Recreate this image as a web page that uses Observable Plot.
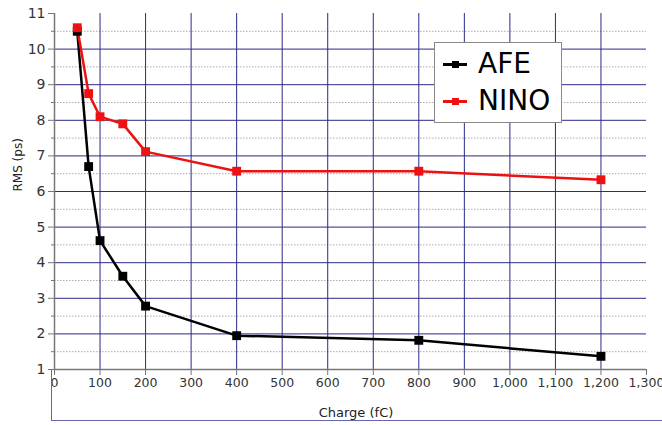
<!DOCTYPE html>
<html>
<head>
<meta charset="utf-8">
<script src="https://cdn.jsdelivr.net/npm/d3@7"></script>
<script src="https://cdn.jsdelivr.net/npm/@observablehq/plot@0.6"></script>
<style>
  body { margin: 0; background: #fff; font-family: "DejaVu Sans", sans-serif; }
  #wrap { position: relative; width: 662px; height: 425px; overflow: hidden; }
  #box { position: absolute; left: 51px; top: 369px; width: 640px; height: 51px;
         border-left: 1.5px solid #6666aa; border-bottom: 1.5px solid #6666aa; }
  #xlabel { position: absolute; left: 6px; width: 700px; text-align: center; top: 405px;
            font-size: 13px; color: #222; }
  #legend { position: absolute; left: 434px; top: 42px; width: 126px; height: 79px;
            border: 1.5px solid #888; background: #fff; }
  .entry { position: absolute; left: 0; height: 30px; }
  .entry .ln { position: absolute; left: 8px; width: 24px; height: 2.5px; }
  .entry .mk { position: absolute; left: 17px; width: 7px; height: 7px; }
  .entry .tx { position: absolute; left: 43px; font-size: 28px; line-height: 30px; color: #000; }
</style>
</head>
<body>
<div id="wrap">
  <div id="chart"></div>
  <div id="box"></div>
  <div id="xlabel">Charge (fC)</div>
  <div id="legend"></div>
</div>
<script>
const charge = [50, 75, 100, 150, 200, 400, 800, 1200];
const afe  = [10.5, 6.7, 4.62, 3.62, 2.78, 1.95, 1.82, 1.37];
const nino = [10.6, 8.75, 8.1, 7.9, 7.12, 6.57, 6.57, 6.33];
const seriesNames = ["AFE", "NINO"];
const seriesColors = ["#000000", "#ee1111"];
const xTicks = d3.range(0, 1301, 100);
const yTicks = d3.range(1, 12, 1);
const yHalf = d3.range(1.5, 11, 1);

const data = [];
charge.forEach((c, i) => {
  data.push({series: "AFE", x: c, y: afe[i]});
  data.push({series: "NINO", x: c, y: nino[i]});
});

const navy = "#2a2a88";

const plot = Plot.plot({
  width: 662,
  height: 425,
  marginLeft: 54,
  marginRight: 16,
  marginTop: 13,
  marginBottom: 56,
  style: {fontFamily: "DejaVu Sans, sans-serif", background: "#fff"},
  x: {domain: [0, 1300]},
  y: {domain: [1, 11]},
  color: {domain: seriesNames, range: seriesColors},
  marks: [
    Plot.ruleY(yHalf, {stroke: "#aaaaaa", strokeWidth: 1, strokeDasharray: "1.5,1.5"}),
    Plot.ruleY(yTicks.filter(d => d > 1 && d < 11), {stroke: navy, strokeWidth: 1}),
    Plot.ruleX(xTicks.filter(d => d > 0 && d < 1300), {stroke: navy, strokeWidth: 1}),
    Plot.ruleX([0], {stroke: "#777", strokeWidth: 1.5}),
    Plot.ruleY([1], {stroke: "#777", strokeWidth: 1.5}),
    Plot.axisY({ticks: yTicks, tickSize: 6, tickPadding: 3, fontSize: 14, color: "#333", stroke: "#777", label: null}),
    Plot.axisY({ticks: yHalf, tickSize: 3, text: null, stroke: "#777", label: null}),
    Plot.axisX({ticks: xTicks, tickSize: 6, tickPadding: 3, fontSize: 12.5, color: "#333", stroke: "#777", label: null}),
    Plot.line(data, {x: "x", y: "y", z: "series", stroke: "series", strokeWidth: 2.5}),
    Plot.dot(data, {x: "x", y: "y", fill: "series", symbol: "square", r: 5}),
    Plot.text(["RMS (ps)"], {frameAnchor: "left", dx: -36, rotate: -90, fontSize: 12, fill: "#222"})
  ]
});
document.getElementById("chart").appendChild(plot);

const legend = document.getElementById("legend");
seriesNames.forEach((name, i) => {
  const e = document.createElement("div");
  e.className = "entry";
  e.style.top = (6 + i * 37) + "px";
  e.style.width = "120px";
  e.innerHTML = `<div class="ln" style="top:14px;background:${seriesColors[i]}"></div>` +
    `<div class="mk" style="top:11.5px;background:${seriesColors[i]}"></div>` +
    `<div class="tx">${name}</div>`;
  legend.appendChild(e);
});
</script>
</body>
</html>
